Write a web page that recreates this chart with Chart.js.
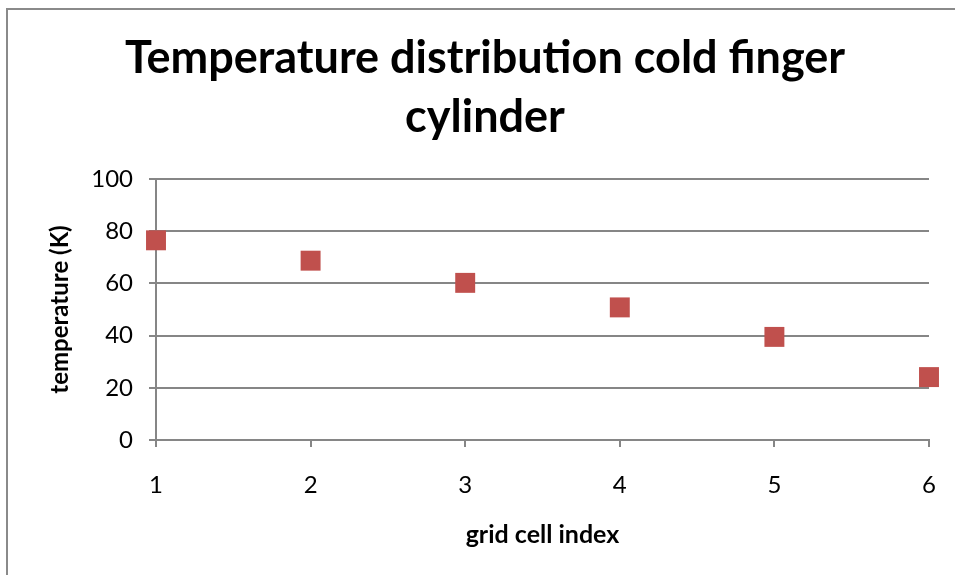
<!DOCTYPE html>
<html>
<head>
<meta charset="utf-8">
<script src="https://cdn.jsdelivr.net/npm/chart.js@4.4.1/dist/chart.umd.min.js"></script>
<style>
  html, body { margin: 0; padding: 0; background: #fff; }
  .wrap { position: relative; width: 955px; height: 575px; overflow: hidden; }
  .frame { position: absolute; left: 6px; top: 8px; width: 1000px; height: 700px; border-left: 2px solid #8a8a8a; border-top: 2px solid #8a8a8a; }
  canvas { position: absolute; left: 0; top: 0; }
</style>
</head>
<body>
<div class="wrap">
  <div class="frame"></div>
  <canvas id="myChart" width="955" height="575"></canvas>
</div>
<script>
const cellIndex = [1, 2, 3, 4, 5, 6];
const temperature = [76.5, 68.7, 60.2, 50.8, 39.5, 24.1];
const yTicks = [0, 20, 40, 60, 80, 100];

const gridGray = '#868686';
const fontFamily = "Lato, 'Open Sans', sans-serif";

const ctx = document.getElementById('myChart');

new Chart(ctx, {
  type: 'scatter',
  data: {
    datasets: [{
      label: 'temperature',
      data: cellIndex.map((x, i) => ({ x: x, y: temperature[i] })),
      pointStyle: 'rect',
      pointRadius: 14.1,
      pointHoverRadius: 14.1,
      backgroundColor: '#C0504D',
      borderColor: '#C0504D',
      borderWidth: 0,
      clip: false,
    }]
  },
  options: {
    responsive: false,
    animation: false,
    // left padding only shifts the title centre to where the original has it
    layout: { padding: { left: 41, right: 26, top: 0, bottom: 0 } },
    plugins: {
      legend: { display: false },
      tooltip: { enabled: false },
      title: {
        display: true,
        text: ['Temperature distribution cold finger', 'cylinder'],
        color: '#000',
        font: { family: fontFamily, size: 45, weight: 'bold', lineHeight: 1.333 },
        padding: { top: 28, bottom: 31 },
      },
    },
    scales: {
      x: {
        type: 'linear',
        min: 1,
        max: 6,
        afterFit: s => { s.height = 135; s.paddingLeft = 0; s.paddingRight = 0; },
        afterBuildTicks: s => { s.ticks = cellIndex.map(v => ({ value: v })); },
        grid: { drawOnChartArea: false, drawTicks: true, tickLength: 7, color: gridGray, lineWidth: 2 },
        border: { display: true, color: gridGray, width: 2 },
        ticks: { color: '#000', font: { family: fontFamily, size: 24 }, padding: 24 },
        title: {
          display: true,
          text: 'grid cell index',
          color: '#000',
          font: { family: fontFamily, size: 25, weight: 'bold' },
          padding: { top: 0, bottom: 25 },
        },
      },
      y: {
        min: 0,
        max: 100,
        afterFit: s => { s.width = 115; s.paddingTop = 0; s.paddingBottom = 0; },
        afterBuildTicks: s => { s.ticks = yTicks.map(v => ({ value: v })); },
        grid: { color: gridGray, lineWidth: 2, drawTicks: true, tickLength: 7 },
        border: { display: true, color: gridGray, width: 2 },
        ticks: { color: '#000', font: { family: fontFamily, size: 24 }, padding: 16 },
        title: {
          display: true,
          text: 'temperature (K)',
          color: '#000',
          font: { family: fontFamily, size: 24, weight: 'bold' },
          padding: { top: 5, bottom: 0 },
        },
      },
    },
  },
});
</script>
</body>
</html>
